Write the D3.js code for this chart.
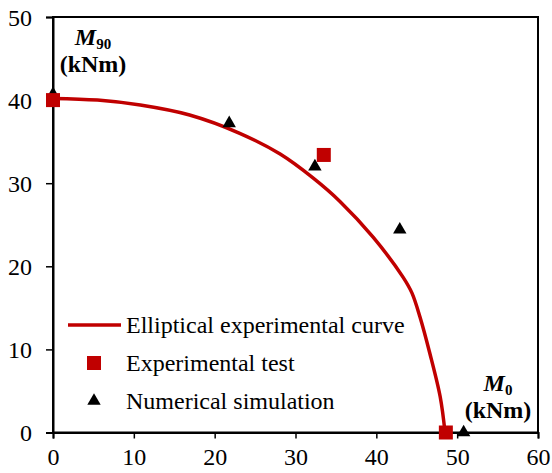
<!DOCTYPE html>
<html>
<head>
<meta charset="utf-8">
<script src="https://cdn.jsdelivr.net/npm/d3@7"></script>
<style>
  body { margin: 0; background: #fff; }
  svg { display: block; font-family: "Liberation Serif", "Times New Roman", serif; }
</style>
</head>
<body>
<svg id="chart" width="552" height="473"></svg>
<script>
// Interaction diagram: M0 (x) vs M90 (y), in kNm
const curveM0  = [0, 5.5, 10.8, 16.9, 23.1, 28.1, 32.2, 35.5, 39.6, 43.3, 44.4, 45.4, 46.6, 47.9, 48.5];
const curveM90 = [40.2, 40.0, 39.4, 38.2, 36.0, 33.5, 30.6, 27.8, 23.5, 18.7, 16.8, 13.9, 9.6, 4.3, 0];

const testM0  = [0, 33.5, 48.6];
const testM90 = [40, 33.4, 0];

const simM0  = [0, 21.8, 32.4, 42.9, 50.8];
const simM90 = [40.7, 37.2, 32.0, 24.4, 0];

const xTicks = [0, 10, 20, 30, 40, 50, 60];
const yTicks = [0, 10, 20, 30, 40, 50];

const legendLabels = ["Elliptical experimental curve", "Experimental test", "Numerical simulation"];

const red = "#c00000";
const fontFam = "'Liberation Serif', 'Times New Roman', serif";
const svg = d3.select("#chart");
const m = { left: 53, right: 14, top: 17, bottom: 40.5 };
const W = 552, H = 473;

const x = d3.scaleLinear().domain([0, 60]).range([m.left, W - m.right]);
const y = d3.scaleLinear().domain([0, 50]).range([H - m.bottom, m.top]);

// frame
svg.append("rect")
  .attr("x", x(0)).attr("y", y(50))
  .attr("width", x(60) - x(0)).attr("height", y(0) - y(50))
  .attr("fill", "none").attr("stroke", "#000").attr("stroke-width", 2);

const xAxis = svg.append("g")
  .attr("transform", `translate(0,${y(0)})`)
  .call(d3.axisBottom(x).tickValues(xTicks).tickSize(6).tickPadding(9));
const yAxis = svg.append("g")
  .attr("transform", `translate(${x(0)},0)`)
  .call(d3.axisLeft(y).tickValues(yTicks).tickSize(7).tickPadding(14));

[xAxis, yAxis].forEach(g => {
  g.attr("font-family", null).attr("font-size", null);
  g.select(".domain").attr("stroke", "#000").attr("stroke-width", 2);
  g.selectAll(".tick line").attr("stroke", "#000").attr("stroke-width", 1.5);
  g.selectAll(".tick text")
    .attr("fill", "#000")
    .style("font-family", fontFam)
    .style("font-size", "24px");
});
yAxis.selectAll(".tick text").attr("dy", "0.35em");

// elliptical curve
const curvePts = curveM0.map((v, i) => [v, curveM90[i]]);
svg.append("path")
  .datum(curvePts)
  .attr("fill", "none")
  .attr("stroke", red)
  .attr("stroke-width", 3.5)
  .attr("d", d3.line().x(d => x(d[0])).y(d => y(d[1])).curve(d3.curveCatmullRom.alpha(0.5)));

// numerical simulation triangles
const tri = d3.symbol().type(d3.symbolTriangle).size(78);
svg.append("g").selectAll("path")
  .data(simM0.map((v, i) => [v, simM90[i]]))
  .join("path")
  .attr("transform", d => `translate(${x(d[0])},${y(d[1])})`)
  .attr("d", tri)
  .attr("fill", "#000");

// experimental squares
const sq = 14;
svg.append("g").selectAll("rect")
  .data(testM0.map((v, i) => [v, testM90[i]]))
  .join("rect")
  .attr("x", d => x(d[0]) - sq / 2)
  .attr("y", d => y(d[1]) - sq / 2)
  .attr("width", sq).attr("height", sq)
  .attr("fill", red);

// legend
const lg = svg.append("g");
const rows = [325, 363, 401];
lg.append("line")
  .attr("x1", 68).attr("x2", 121).attr("y1", rows[0]).attr("y2", rows[0])
  .attr("stroke", red).attr("stroke-width", 3.5);
lg.append("rect")
  .attr("x", 94 - 7).attr("y", rows[1] - 7).attr("width", 14).attr("height", 14)
  .attr("fill", red);
lg.append("path")
  .attr("transform", `translate(94,${rows[2]})`)
  .attr("d", tri).attr("fill", "#000");
lg.selectAll("text")
  .data(legendLabels)
  .join("text")
  .attr("x", 126)
  .attr("y", (d, i) => rows[i])
  .attr("dy", "0.32em")
  .style("font-family", fontFam)
  .style("font-size", "24px")
  .attr("fill", "#000")
  .text(d => d);

// axis name labels
function axisName(cx, yBase, sub) {
  const g = svg.append("g").attr("font-weight", "bold")
    .style("font-family", fontFam).style("font-size", "24px");
  const t = g.append("text").attr("x", cx).attr("y", yBase).attr("text-anchor", "middle");
  t.append("tspan").attr("font-style", "italic").text("M");
  t.append("tspan").attr("dy", 4).style("font-size", "15px").text(sub);
  g.append("text").attr("x", cx).attr("y", yBase + 27).attr("text-anchor", "middle").text("(kNm)");
}
axisName(93, 45, "90");
axisName(498, 391, "0");
</script>
</body>
</html>
